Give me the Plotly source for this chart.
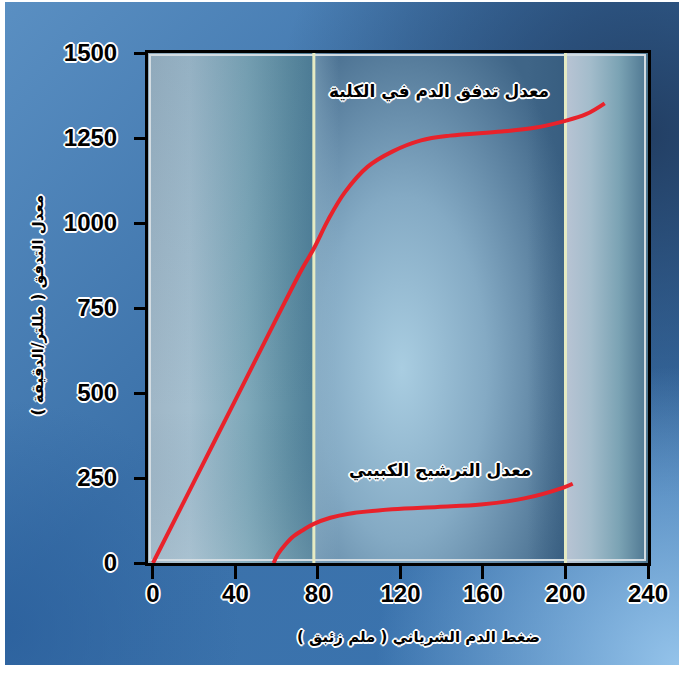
import base64
import plotly.graph_objects as go

# Arterial pressure (mm Hg) vs. renal blood flow and glomerular filtration (ml/min)
rbf_pressure = [0, 20, 40, 60, 72, 78, 85, 93, 104, 116, 130, 144, 169, 185, 199, 210, 219]
rbf_flow = [0, 240, 480, 720, 862, 925, 1010, 1090, 1165, 1210, 1243, 1257, 1269, 1280, 1299, 1320, 1352]

gfr_pressure = [58.5, 60.5, 64, 68, 73, 78, 86, 95, 116, 138, 159, 180, 199, 203.5]
gfr_rate = [0, 25, 53, 78, 98, 115, 133, 145, 158, 165, 172, 190, 222, 233]

# autoregulation range boundaries
range_bounds = [78, 200]
x_ticks = [0, 40, 80, 120, 160, 200, 240]
y_ticks = [0, 250, 500, 750, 1000, 1250, 1500]

rbf_label = "معدل تدفق الدم في الكلية"
gfr_label = "معدل الترشيح الكبيبي"
x_title = "\u200fضغط الدم الشرياني ( ملم زئبق )\u200f"
y_title = "\u200fمعدل التدفق ( مللتر/الدقيقة )\u200f"

RED = "#e8222b"
HALO = ("-1px -1px 0 #fff, 1px -1px 0 #fff, -1px 1px 0 #fff, 1px 1px 0 #fff,"
        " 0 -2px 0 #fff, 0 2px 0 #fff, -2px 0 0 #fff, 2px 0 0 #fff")


def svg_uri(body):
    svg = ('<svg xmlns="http://www.w3.org/2000/svg" viewBox="0 0 100 100" '
           'preserveAspectRatio="none">' + body + '</svg>')
    return "data:image/svg+xml;base64," + base64.b64encode(svg.encode()).decode()


page_bg = svg_uri(
    '<defs>'
    '<linearGradient id="b" x1="0" y1="0" x2="1" y2="1">'
    '<stop offset="0" stop-color="#5a8fc2"/><stop offset="0.45" stop-color="#3b71a9"/>'
    '<stop offset="1" stop-color="#3a74b0"/></linearGradient>'
    '<radialGradient id="d" cx="0.95" cy="0.2" r="0.55">'
    '<stop offset="0" stop-color="#213c60" stop-opacity="0.95"/>'
    '<stop offset="1" stop-color="#213c60" stop-opacity="0"/></radialGradient>'
    '<radialGradient id="l" cx="1" cy="1" r="0.45">'
    '<stop offset="0" stop-color="#94c3ea" stop-opacity="1"/>'
    '<stop offset="1" stop-color="#94c3ea" stop-opacity="0"/></radialGradient>'
    '<radialGradient id="k" cx="0" cy="0.95" r="0.35">'
    '<stop offset="0" stop-color="#2a5f9c" stop-opacity="0.8"/>'
    '<stop offset="1" stop-color="#2a5f9c" stop-opacity="0"/></radialGradient>'
    '</defs>'
    '<rect width="100" height="100" fill="url(#b)"/>'
    '<rect width="100" height="100" fill="url(#d)"/>'
    '<rect width="100" height="100" fill="url(#l)"/>'
    '<rect width="100" height="100" fill="url(#k)"/>'
)

left_panel = svg_uri(
    '<defs><linearGradient id="g" x1="0" y1="0" x2="1" y2="0">'
    '<stop offset="0" stop-color="#9fb6c6"/><stop offset="0.25" stop-color="#a5bfcf"/>'
    '<stop offset="0.6" stop-color="#7ea8b9"/><stop offset="0.85" stop-color="#5f8ea3"/>'
    '<stop offset="1" stop-color="#4f7f98"/></linearGradient>'
    '<linearGradient id="v" x1="0" y1="0" x2="0" y2="1">'
    '<stop offset="0" stop-color="#38617f" stop-opacity="0.15"/>'
    '<stop offset="0.7" stop-color="#38617f" stop-opacity="0"/>'
    '<stop offset="1" stop-color="#c0d0da" stop-opacity="0.15"/></linearGradient></defs>'
    '<rect width="100" height="100" fill="url(#g)"/>'
    '<rect width="100" height="100" fill="url(#v)"/>'
)

middle_panel = svg_uri(
    '<defs><radialGradient id="g" cx="0.35" cy="0.62" r="0.75">'
    '<stop offset="0" stop-color="#a9cde1"/><stop offset="0.45" stop-color="#84aac4"/>'
    '<stop offset="1" stop-color="#3f6587"/></radialGradient>'
    '<linearGradient id="e" x1="0" y1="0" x2="1" y2="0">'
    '<stop offset="0" stop-color="#8fb2c8" stop-opacity="0.5"/>'
    '<stop offset="0.1" stop-color="#8fb2c8" stop-opacity="0"/>'
    '<stop offset="0.85" stop-color="#2f5578" stop-opacity="0"/>'
    '<stop offset="1" stop-color="#2f5578" stop-opacity="0.45"/></linearGradient></defs>'
    '<rect width="100" height="100" fill="url(#g)"/>'
    '<rect width="100" height="100" fill="url(#e)"/>'
)

right_panel = svg_uri(
    '<defs><linearGradient id="g" x1="0" y1="0" x2="1" y2="0">'
    '<stop offset="0" stop-color="#b9c4d4"/><stop offset="0.3" stop-color="#a3bccb"/>'
    '<stop offset="0.65" stop-color="#7ba3b4"/><stop offset="1" stop-color="#4c7590"/>'
    '</linearGradient></defs>'
    '<rect width="100" height="100" fill="url(#g)"/>'
)

x_lo, x_hi = -2.4, 240

fig = go.Figure()
fig.add_trace(go.Scatter(
    x=rbf_pressure, y=rbf_flow, mode="lines",
    line=dict(color=RED, width=4, shape="spline", smoothing=1.0),
    hoverinfo="skip", showlegend=False,
))
fig.add_trace(go.Scatter(
    x=gfr_pressure, y=gfr_rate, mode="lines",
    line=dict(color=RED, width=4, shape="spline", smoothing=1.0),
    hoverinfo="skip", showlegend=False,
))

images = [
    # page background, stretched over the whole figure inside a thin white border
    dict(source=page_bg, xref="paper", yref="paper", x=-143 / 500, y=1 + 51 / 510,
         sizex=674 / 500, sizey=663 / 510, xanchor="left", yanchor="top",
         sizing="stretch", layer="below"),
    dict(source=left_panel, xref="x", yref="paper", x=x_lo, y=1,
         sizex=range_bounds[0] - x_lo, sizey=1, xanchor="left", yanchor="top",
         sizing="stretch", layer="below"),
    dict(source=middle_panel, xref="x", yref="paper", x=range_bounds[0], y=1,
         sizex=range_bounds[1] - range_bounds[0], sizey=1, xanchor="left",
         yanchor="top", sizing="stretch", layer="below"),
    dict(source=right_panel, xref="x", yref="paper", x=range_bounds[1], y=1,
         sizex=x_hi - range_bounds[1], sizey=1, xanchor="left", yanchor="top",
         sizing="stretch", layer="below"),
]

shapes = [
    dict(type="rect", xref="paper", yref="paper", x0=0.004, x1=0.994, y0=0.006, y1=0.996,
         line=dict(color="#d3dce2", width=2), layer="below"),
]
for b in range_bounds:
    shapes.append(dict(type="line", xref="x", yref="paper", x0=b, x1=b, y0=0, y1=1,
                       line=dict(color="#e6ebc3", width=3), layer="below"))

label_font = dict(family="DejaVu Sans", size=17, color="black", weight="bold", shadow=HALO)
axis_title_font = dict(family="DejaVu Sans", size=15, color="black", weight="bold",
                       shadow=HALO)
annotations = [
    dict(text=rbf_label, x=138.5, y=1388, xref="x", yref="y", showarrow=False,
         font=label_font),
    dict(text=gfr_label, x=139, y=273, xref="x", yref="y", showarrow=False,
         font=label_font),
    dict(text=x_title, x=0.54, y=-0.145, xref="paper", yref="paper", showarrow=False,
         xanchor="center", yanchor="middle", font=axis_title_font),
    dict(text=y_title, x=-0.22, y=0.505, xref="paper", yref="paper", showarrow=False,
         xanchor="center", yanchor="middle", textangle=-90, font=axis_title_font),
]

tick_font = dict(family="Liberation Sans, Arial, sans-serif", size=24, color="black",
                 weight="bold", shadow=HALO)

fig.update_layout(
    width=685, height=675,
    margin=dict(l=148, r=37, t=53, b=112),
    paper_bgcolor="white", plot_bgcolor="rgba(0,0,0,0)",
    images=images, shapes=shapes, annotations=annotations,
    xaxis=dict(range=[x_lo, x_hi], tickvals=x_ticks, ticks="outside", ticklen=13,
               tickwidth=3, tickcolor="black", showline=True, linecolor="black",
               linewidth=3, mirror=True, showgrid=False, zeroline=False,
               tickfont=tick_font, ticklabelstandoff=-6),
    yaxis=dict(range=[0, 1500], tickvals=y_ticks, ticks="outside", ticklen=11,
               tickwidth=3, tickcolor="black", showline=True, linecolor="black",
               linewidth=3, mirror=True, showgrid=False, zeroline=False,
               tickfont=tick_font, ticklabelstandoff=12),
)

fig.write_html("out.html")
